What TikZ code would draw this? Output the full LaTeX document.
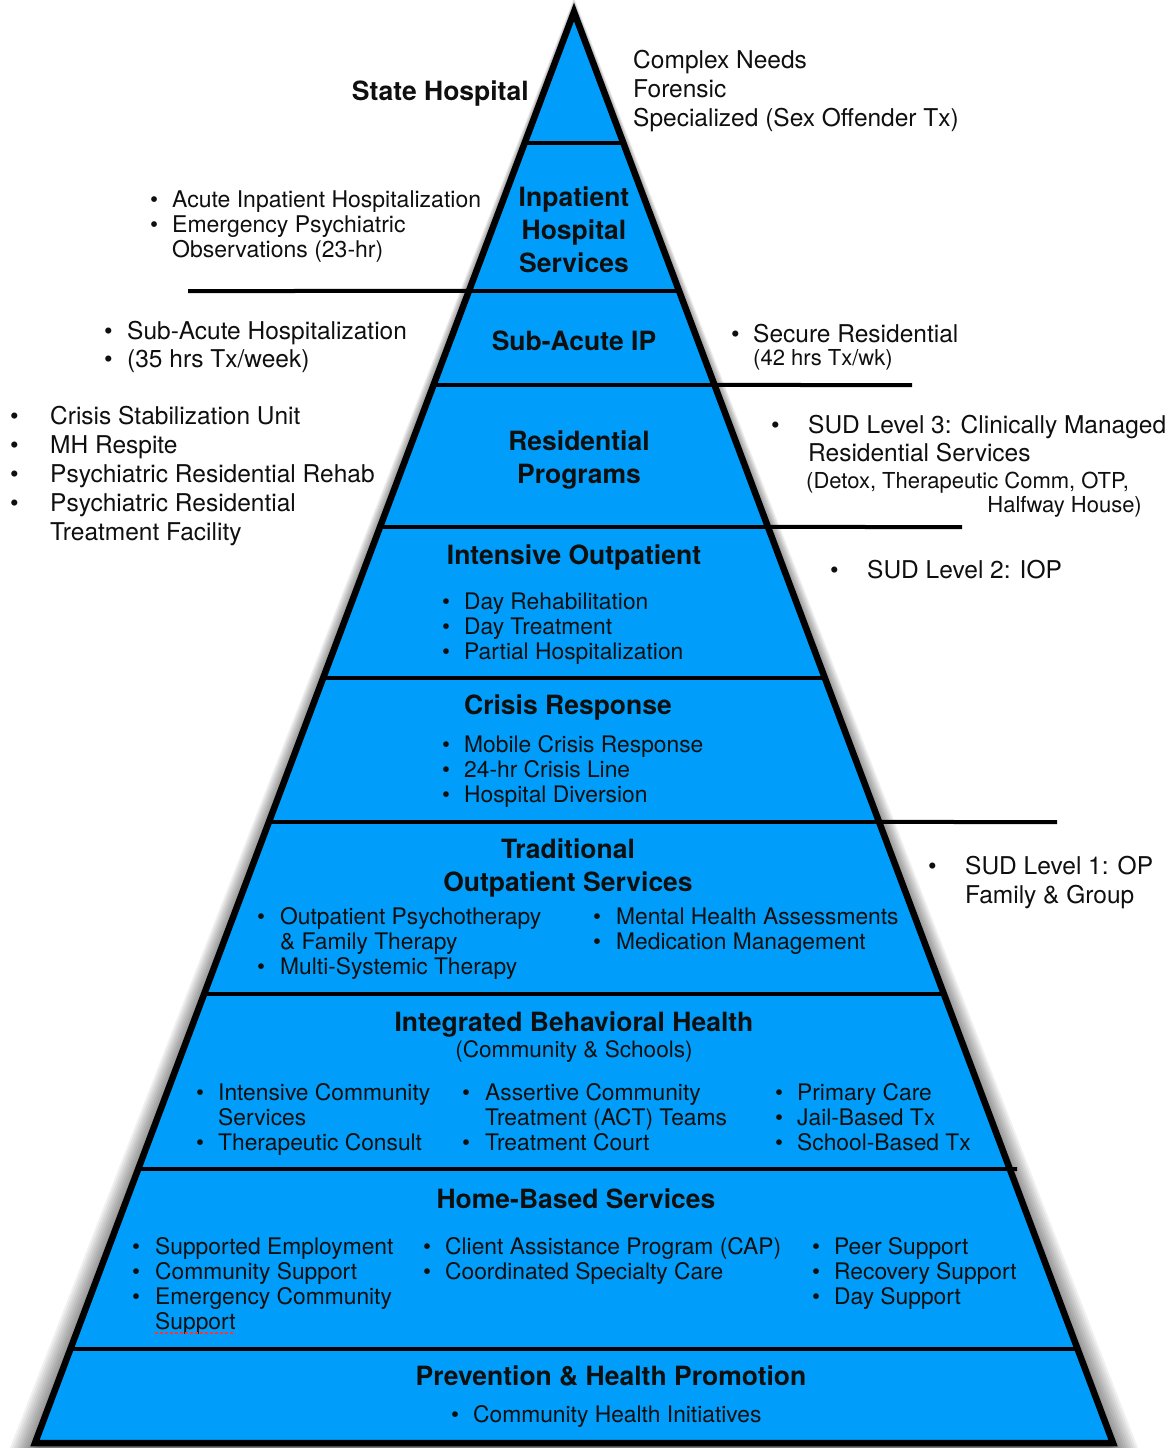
\documentclass[tikz,border=0pt]{standalone}
\usepackage{fontspec}
\setmainfont{TeX Gyre Heros}
\usetikzlibrary{calc}
\definecolor{tierblue}{RGB}{0,158,250}
\definecolor{ink}{RGB}{15,15,15}
% bullet in a fixed-width box, and the matching indent for wrapped lines
\newcommand\bul[1][22pt]{\makebox[#1][l]{\textbullet}}
\newcommand\cont[1][22pt]{\hspace*{#1}}
\newcommand\rows[1]{\begin{tabular}[t]{@{}l@{}}#1\end{tabular}}
\newcommand\crows[1]{\begin{tabular}[t]{@{}c@{}}#1\end{tabular}}
\begin{document}
\begin{tikzpicture}[x=1pt,y=-1pt,
  tier/.style={font=\fontsize{26.5}{33}\selectfont\bfseries, anchor=base, inner sep=0, text=ink},
  inlist/.style={font=\fontsize{22.8}{25}\selectfont, anchor=base west, inner sep=0, text=ink},
  outlist/.style={font=\fontsize{24.5}{29}\selectfont, anchor=base west, inner sep=0, text=ink},
  small/.style={font=\fontsize{22}{24}\selectfont, inner sep=0, text=ink},
  divider/.style={line width=4pt, black},
  outline/.style={line width=6.5pt, black, line join=miter}]

\useasboundingbox (0,0) rectangle (1174,1448);

% pyramid corners
\coordinate (apex) at (574,12);
\coordinate (bl) at (35,1443);
\coordinate (br) at (1113,1443);

% soft drop shadow around the pyramid, wider towards the base
\begin{scope}
  \clip (0,0) rectangle (1174,1448);
  \foreach \i in {1,...,13}{
    \fill[black, opacity=0.055]
      (574,12-1.1*\i) -- ({35-2.3*\i},1460) -- ({1113+2.3*\i},1460) -- cycle;
  }
\end{scope}

% pyramid body
\fill[tierblue] (apex) -- (bl) -- (br) -- cycle;

% tier dividers
\foreach \yy in {143,291,385,527,678,822,994,1169,1349}{
  \pgfmathsetmacro\t{(\yy-12)/1431}
  \draw[divider] ($(apex)!\t!(bl)$) -- ($(apex)!\t!(br)$);
}
% divider extensions towards the side notes
\pgfmathsetmacro\ta{(291-12)/1431}
\draw[divider] (188,291) -- ($(apex)!\ta!(bl)$);
\pgfmathsetmacro\tb{(385-12)/1431}
\draw[divider] ($(apex)!\tb!(br)$) -- (912,385);
\pgfmathsetmacro\tc{(527-12)/1431}
\draw[divider] ($(apex)!\tc!(br)$) -- (962,527);
\pgfmathsetmacro\td{(822-12)/1431}
\draw[divider] ($(apex)!\td!(br)$) -- (1057,822);
\pgfmathsetmacro\te{(1169-12)/1431}
\draw[divider] ($(apex)!\te!(br)$) -- (1017,1169);

% pyramid outline
\draw[outline] (apex) -- (bl) -- (br) -- cycle;

% ---- top tier
\node[tier, anchor=base east] (statehosp) at (529,100) {State Hospital};
\node[outlist] (complex) at (633,68) {\rows{Complex Needs\\Forensic\\Specialized (Sex Offender Tx)}};

% ---- inpatient
\node[tier] (inpatient) at (574,206) {\crows{Inpatient\\Hospital\\Services}};
\node[inlist, font=\fontsize{23}{25}\selectfont] (acute) at (150,207)
  {\rows{\bul Acute Inpatient Hospitalization\\\bul Emergency Psychiatric\\\cont Observations (23-hr)}};

% ---- sub-acute
\node[tier] (subacute) at (574,350) {Sub-Acute IP};
\node[outlist, font=\fontsize{24.5}{28}\selectfont] (subacutel) at (104,339)
  {\rows{\bul[23pt]Sub-Acute Hospitalization\\\bul[23pt](35 hrs Tx/week)}};
\node[outlist] (secure) at (731,342) {\bul Secure Residential};
\node[small, anchor=base west] (secureh) at (753,365) {(42 hrs Tx/wk)};

% ---- residential
\node[tier] (resid) at (579,450) {\crows{Residential\\Programs}};
\node[outlist] (residl) at (10,424)
  {\rows{\bul[40pt]Crisis Stabilization Unit\\\bul[40pt]MH Respite\\\bul[40pt]Psychiatric Residential Rehab\\\bul[40pt]Psychiatric Residential\\\cont[40pt]Treatment Facility}};
\node[outlist, font=\fontsize{24.5}{28}\selectfont] (sud3) at (771,433)
  {\rows{\bul[37pt]SUD Level 3: Clinically Managed\\\cont[37pt]Residential Services}};
\node[small, anchor=base west] (sud3a) at (806,488) {(Detox, Therapeutic Comm, OTP,};
\node[small, anchor=base east] (sud3b) at (1142,512) {Halfway House)};

% ---- intensive outpatient
\node[tier] (iop) at (574,564) {Intensive Outpatient};
\node[inlist] (iopl) at (442,609)
  {\rows{\bul Day Rehabilitation\\\bul Day Treatment\\\bul Partial Hospitalization}};
\node[outlist] (sud2) at (830,578) {\bul[37pt]SUD Level 2: IOP};

% ---- crisis response
\node[tier] (crisis) at (568,714) {Crisis Response};
\node[inlist] (crisisl) at (442,752)
  {\rows{\bul Mobile Crisis Response\\\bul 24-hr Crisis Line\\\bul Hospital Diversion}};

% ---- traditional outpatient
\node[tier] (trad) at (568,858) {\crows{Traditional\\Outpatient Services}};
\node[inlist] (tradl) at (257,924)
  {\rows{\bul[23pt]Outpatient Psychotherapy\\\cont[23pt]\& Family Therapy\\\bul[23pt]Multi-Systemic Therapy}};
\node[inlist] (tradr) at (593,924)
  {\rows{\bul[23pt]Mental Health Assessments\\\bul[23pt]Medication Management}};
\node[outlist] (sud1) at (928,874)
  {\rows{\bul[37pt]SUD Level 1: OP\\\cont[37pt]Family \& Group}};

% ---- integrated behavioral health
\node[tier] (ibh) at (574,1031) {Integrated Behavioral Health};
\node[small, anchor=base, font=\fontsize{22.6}{25}\selectfont] (ibhsub) at (574,1057) {(Community \& Schools)};
\node[inlist] (ibh1) at (196,1100)
  {\rows{\bul Intensive Community\\\cont Services\\\bul Therapeutic Consult}};
\node[inlist] (ibh2) at (462,1100)
  {\rows{\bul[23pt]Assertive Community\\\cont[23pt]Treatment (ACT) Teams\\\bul[23pt]Treatment Court}};
\node[inlist] (ibh3) at (775,1100)
  {\rows{\bul Primary Care\\\bul Jail-Based Tx\\\bul School-Based Tx}};

% ---- home-based services
\node[tier] (home) at (576,1208) {Home-Based Services};
\node[inlist] (home1) at (132,1254)
  {\rows{\bul[23pt]Supported Employment\\\bul[23pt]Community Support\\\bul[23pt]Emergency Community\\\cont[23pt]Support}};
\draw[red!80!white, line width=1.6pt, dash pattern=on 2.5pt off 2.5pt] (155,1333) -- (235,1333);
\node[inlist] (home2) at (423,1254)
  {\rows{\bul Client Assistance Program (CAP)\\\bul Coordinated Specialty Care}};
\node[inlist] (home3) at (812,1254)
  {\rows{\bul Peer Support\\\bul Recovery Support\\\bul Day Support}};

% ---- prevention
\node[tier] (prev) at (611,1385) {Prevention \& Health Promotion};
\node[inlist] (prevl) at (451,1422) {\bul Community Health Initiatives};

\end{tikzpicture}
\end{document}
